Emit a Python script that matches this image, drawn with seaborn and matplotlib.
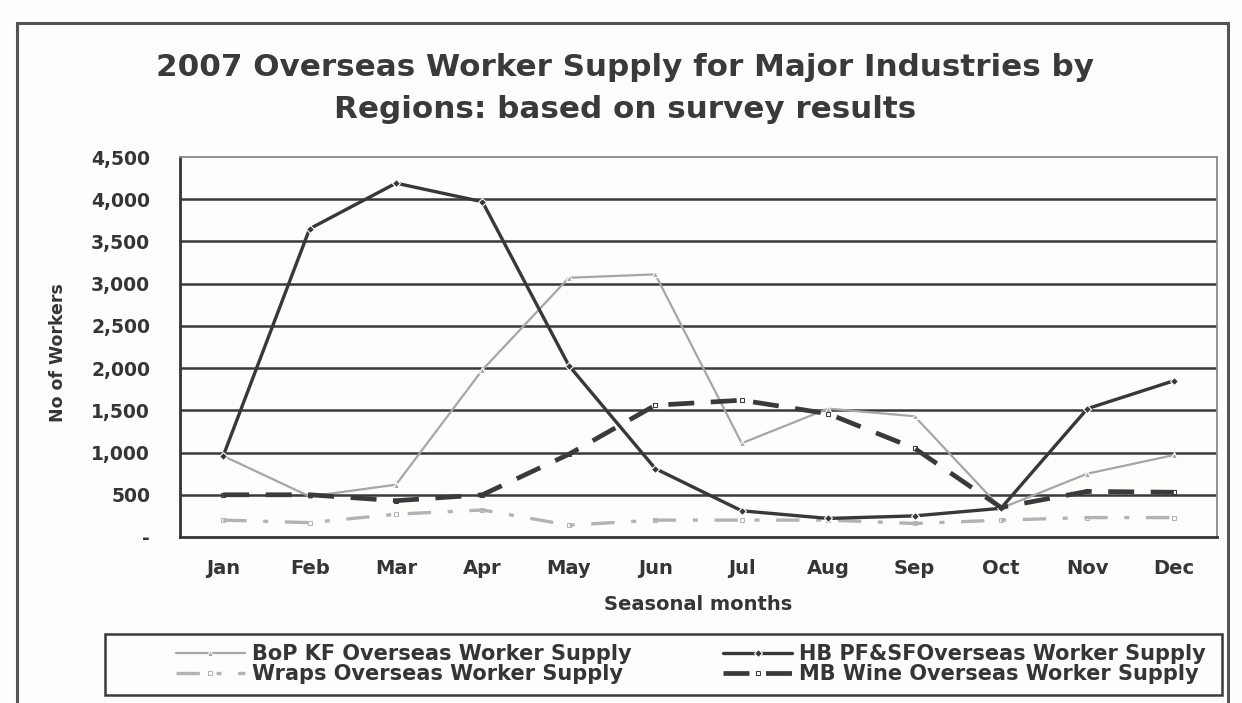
import matplotlib
matplotlib.use("Agg")
import matplotlib.pyplot as plt
from matplotlib.patches import Rectangle
import numpy as np
import pandas as pd
import seaborn as sns

# ---- data ----
months = ["Jan", "Feb", "Mar", "Apr", "May", "Jun",
          "Jul", "Aug", "Sep", "Oct", "Nov", "Dec"]
bop_kf = [960, 480, 620, 1980, 3070, 3110, 1110, 1520, 1430, 340, 750, 970]
hb_pf_sf = [960, 3650, 4190, 3970, 2030, 810, 310, 220, 250, 340, 1520, 1850]
wraps = [200, 170, 270, 320, 140, 200, 200, 200, 160, 200, 230, 230]
mb_wine = [500, 500, 430, 500, 980, 1560, 1620, 1460, 1050, 350, 540, 530]

y_ticks = [0, 500, 1000, 1500, 2000, 2500, 3000, 3500, 4000, 4500]
y_tick_labels = ["-", "500", "1,000", "1,500", "2,000", "2,500",
                 "3,000", "3,500", "4,000", "4,500"]

label_bop = "BoP KF Overseas Worker Supply"
label_hb = "HB PF&SFOverseas Worker Supply"
label_wraps = "Wraps Overseas Worker Supply"
label_mb = "MB Wine Overseas Worker Supply"

title_1 = "2007 Overseas Worker Supply for Major Industries by"
title_2 = "Regions: based on survey results"

# ---- style ----
sns.set_style("white")
plt.rcParams["font.family"] = ["DejaVu Sans"]
plt.rcParams["font.weight"] = "bold"
ink = "#353535"

W, H = 1242, 703
fig = plt.figure(figsize=(W / 100, H / 100), dpi=100, facecolor="#fdfdfc")

def fx(px):
    return px / W

def fy(py):
    return 1 - py / H

ax_l, ax_r, ax_t, ax_b = 180, 1217, 157, 537
ax = fig.add_axes([fx(ax_l), fy(ax_b), fx(ax_r - ax_l), (ax_b - ax_t) / H])
ax.set_facecolor("#fdfdfc")

x = np.arange(len(months))

# horizontal gridlines (inner values only; the top edge is the plot frame)
for v in y_ticks[1:-1]:
    ax.axhline(v, color="#3a3a3a", lw=1.8, zorder=1)

sns.lineplot(x=x, y=bop_kf, ax=ax, color="#a6a6a6", lw=1.6,
             marker="^", markersize=4, markeredgewidth=0.8,
             label=label_bop, zorder=3)
sns.lineplot(x=x, y=wraps, ax=ax, color="#b3b3b3", lw=2.4,
             linestyle=(0, (7, 5, 1.5, 5)), marker="s", markersize=3.5,
             markerfacecolor="none", markeredgecolor="#b3b3b3",
             label=label_wraps, zorder=3)
sns.lineplot(x=x, y=hb_pf_sf, ax=ax, color="#383838", lw=2.4,
             marker="D", markersize=4, markeredgewidth=0.8,
             label=label_hb, zorder=4)
sns.lineplot(x=x, y=mb_wine, ax=ax, color="#3a3a3a", lw=3.4,
             linestyle=(0, (5.5, 3.5)), marker="s", markersize=3.5,
             markerfacecolor="none", markeredgecolor="#3a3a3a",
             label=label_mb, zorder=4)

ax.set_xlim(-0.5, len(months) - 0.5)
ax.set_ylim(0, 4500)

# category labels centred, tick marks at category boundaries
ax.set_xticks(x)
ax.set_xticklabels(months)
ax.set_xticks(np.arange(-0.5, len(months), 1), minor=True)
ax.tick_params(axis="x", which="major", length=0, pad=16,
               labelsize=14, labelcolor=ink)
ax.tick_params(axis="x", which="minor", length=9, width=1.5,
               direction="inout", color=ink)
ax.set_yticks(y_ticks)
ax.set_yticklabels(y_tick_labels)
ax.tick_params(axis="y", length=9, width=1.5, direction="inout",
               color=ink, pad=17, labelsize=13.5, labelcolor=ink)

for side in ("left", "bottom"):
    ax.spines[side].set_color(ink)
    ax.spines[side].set_linewidth(2.0)
for side in ("top", "right"):
    ax.spines[side].set_color("#8a8a8a")
    ax.spines[side].set_linewidth(1.3)

ax.set_xlabel("Seasonal months", fontsize=14, fontweight="bold", color=ink)
ax.set_ylabel("No of Workers", fontsize=12.5, fontweight="bold", color=ink)
ax.xaxis.set_label_coords(0.5, -(605 - ax_b) / (ax_b - ax_t))
ax.yaxis.set_label_coords(-(ax_l - 58) / (ax_r - ax_l), (ax_b - 353) / (ax_b - ax_t))
ax.xaxis.label.set_va("center")
ax.yaxis.label.set_va("center")

# title
fig.text(fx(625), fy(68), title_1, ha="center", va="center",
         fontsize=22.3, fontweight="bold", color="#3a3a3a")
fig.text(fx(625), fy(110), title_2, ha="center", va="center",
         fontsize=22.3, fontweight="bold", color="#3a3a3a")

# legend (frameless) inside a drawn box
handles, labels = ax.get_legend_handles_labels()
ax.get_legend().remove()
order = [label_bop, label_wraps, label_hb, label_mb]
hmap = dict(zip(labels, handles))
leg = fig.legend([hmap[k] for k in order], order, ncol=2, frameon=False,
                 loc="center", bbox_to_anchor=(fx(691), fy(664)),
                 handlelength=3.3, handletextpad=0.35,
                 columnspacing=4.4, labelspacing=0.0, borderpad=0.0,
                 prop={"weight": "bold", "size": 15})
for t in leg.get_texts():
    t.set_color(ink)

fig.patches.append(Rectangle((fx(105), fy(695)), fx(1222 - 105), (695 - 634) / H,
                             transform=fig.transFigure, fill=False,
                             edgecolor="#3a3a3a", lw=1.8, zorder=0))
# outer chart frame
fig.patches.append(Rectangle((fx(17), fy(720)), fx(1228 - 17), (720 - 23) / H,
                             transform=fig.transFigure, fill=False,
                             edgecolor="#555555", lw=2.2, zorder=0,
                             clip_on=False))

fig.savefig("out.png", dpi=100, facecolor=fig.get_facecolor())
